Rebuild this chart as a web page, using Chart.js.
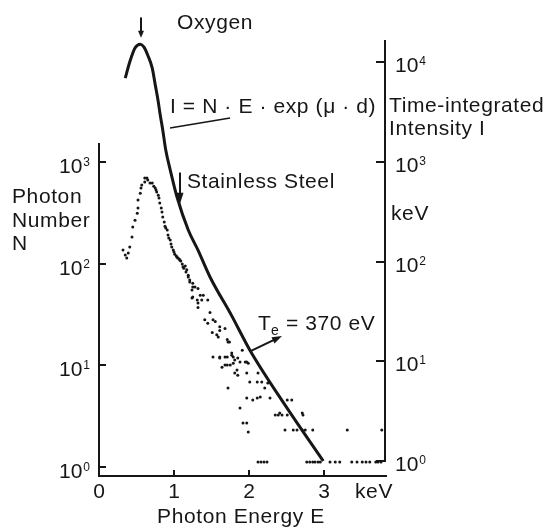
<!DOCTYPE html>
<html>
<head>
<meta charset="utf-8">
<script src="https://cdn.jsdelivr.net/npm/chart.js@4/dist/chart.umd.min.js"></script>
<style>
  html, body { margin: 0; padding: 0; background: #fff; }
  canvas { display: block; }
</style>
</head>
<body>
<canvas id="c" width="553" height="531"></canvas>
<script>
// Measured photon spectrum: photon energy (keV) and photon number N
const photonE = [
  0.32, 0.35, 0.37, 0.39, 0.41, 0.44, 0.45, 0.48, 0.51, 0.52, 0.52, 0.55, 0.56, 0.57, 0.61, 0.61, 0.64, 0.65, 0.68,
  0.71, 0.73, 0.75, 0.76, 0.77, 0.79, 0.80, 0.81, 0.83, 0.84, 0.85, 0.87, 0.88, 0.89, 0.91, 0.92, 0.93, 0.95, 0.96,
  0.97, 0.99, 1.00, 1.01, 1.03, 1.04, 1.05, 1.07, 1.08, 1.09, 1.11, 1.12, 1.13, 1.15, 1.16, 1.17, 1.19, 1.19, 1.21,
  1.21, 1.24, 1.24, 1.25, 1.25, 1.25, 1.28, 1.31, 1.32, 1.32, 1.32, 1.35, 1.37, 1.39, 1.41, 1.45, 1.45, 1.48, 1.51,
  1.52, 1.55, 1.57, 1.59, 1.61, 1.61, 1.68, 1.71, 1.72, 1.74,
  1.52, 1.61, 1.61, 1.64, 1.68, 1.68, 1.71, 1.71, 1.75, 1.77, 1.77, 1.79, 1.79, 1.81, 1.81, 1.84, 1.85, 1.85, 1.88,
  1.91, 1.95, 1.97, 1.97, 1.99, 2.01, 2.11, 2.12, 2.17, 2.21, 2.25, 1.72,
  1.97, 2.05, 2.11, 2.15, 2.28, 2.51, 2.57, 1.88, 2.35, 2.39, 2.41, 2.44, 2.51, 2.71, 2.72,
  1.92, 1.97, 1.99, 2.48, 2.59, 2.64, 2.71, 2.75, 2.85, 3.31, 3.77,
  2.12, 2.16, 2.20, 2.24, 2.77, 2.81, 2.85, 2.88, 2.92, 2.95, 3.08, 3.15, 3.21, 3.37, 3.44, 3.51, 3.56, 3.61, 3.69,
  3.72, 3.76
];
const photonN = [
  136, 122, 114, 127, 146, 183, 229, 268, 314, 352, 422, 494, 554, 593, 634, 695, 695, 664, 620,
  620, 579, 554, 529, 506, 470, 442, 394, 352, 322, 287, 257, 234, 224, 214, 191, 179, 171, 156,
  146, 136, 130, 124, 119, 116, 114, 111, 108, 106, 99, 93, 90, 95, 83, 87, 77, 74, 69,
  66, 55, 46, 64, 59, 47, 59, 44, 57, 41, 37, 49, 44, 49, 28, 44, 26, 33, 21,
  28, 27, 20, 19, 24, 22, 23, 18, 17, 17,
  12.1, 12.1, 11.8, 9.6, 12.1, 10.1, 12.1, 10.1, 10.1, 13.2, 12.6, 12.1, 10.5, 11.3, 8.4, 9.0, 11.8, 8.0, 10.8,
  14.1, 10.8, 10.8, 8.4, 10.5, 6.85, 6.85, 8.4, 6.85, 6.0, 6.7, 6.0,
  4.77, 4.56, 4.77, 4.88, 4.77, 4.56, 4.56, 3.8, 3.25, 3.25, 3.4, 3.25, 3.25, 3.4, 3.25,
  2.71, 2.71, 2.21, 2.31, 2.31, 2.31, 2.31, 2.31, 2.31, 2.31, 2.31,
  1.12, 1.12, 1.12, 1.12, 1.12, 1.12, 1.12, 1.12, 1.12, 1.12, 1.12, 1.12, 1.12, 1.12, 1.12, 1.12, 1.12, 1.12, 1.12,
  1.12, 1.12
];

// Time-integrated intensity I = N·E·exp(μ·d) versus photon energy (keV)
const intensityE = [0.35, 0.41, 0.48, 0.55, 0.60, 0.65, 0.71, 0.75, 0.79, 0.81, 0.85, 0.89, 0.95, 1.04, 1.19, 1.32, 1.48, 1.77, 2.01, 2.49, 2.99];
const intensityI = [6900, 10000, 13800, 15100, 14100, 11700, 8700, 5900, 4000, 3160, 2080, 1310, 826, 443, 207, 130, 70, 28.5, 13, 3.55, 1.0];

// Axis ticks
const xTicks = [0, 1, 2, 3];
const leftTicks = [1, 10, 100, 1000];
const rightTicks = [1, 10, 100, 1000, 10000];
const leftAxisTopN = 1540;   // upper end of the photon-number axis line

const INK = '#161616';
const FONT = '"Liberation Sans", Arial, Helvetica, sans-serif';

function line(ctx, x1, y1, x2, y2) {
  ctx.beginPath(); ctx.moveTo(x1, y1); ctx.lineTo(x2, y2); ctx.stroke();
}
function arrowHead(ctx, x1, y1, x2, y2, len, half) {
  const ang = Math.atan2(y2 - y1, x2 - x1);
  ctx.beginPath();
  ctx.moveTo(x2, y2);
  ctx.lineTo(x2 - len * Math.cos(ang) + half * Math.sin(ang), y2 - len * Math.sin(ang) - half * Math.cos(ang));
  ctx.lineTo(x2 - len * Math.cos(ang) - half * Math.sin(ang), y2 - len * Math.sin(ang) + half * Math.cos(ang));
  ctx.closePath(); ctx.fill();
}
function arrow(ctx, x1, y1, x2, y2, len, half) {
  const ang = Math.atan2(y2 - y1, x2 - x1);
  line(ctx, x1, y1, x2 - len * 0.6 * Math.cos(ang), y2 - len * 0.6 * Math.sin(ang));
  arrowHead(ctx, x1, y1, x2, y2, len, half);
}
function powLabel(ctx, exp, x, y, align) {
  ctx.font = '21px ' + FONT;
  const wb = ctx.measureText('10').width;
  ctx.font = '12px ' + FONT;
  const we = ctx.measureText(String(exp)).width;
  const left = align === 'right' ? x - (wb + 1 + we) : x;
  ctx.textAlign = 'left';
  ctx.font = '21px ' + FONT;
  ctx.fillText('10', left, y);
  ctx.font = '12px ' + FONT;
  ctx.fillText(String(exp), left + wb + 1, y - 7);
}
function text(ctx, s, x, y, size, align) {
  ctx.font = (size || 21) + 'px ' + FONT;
  ctx.textAlign = align || 'left';
  ctx.fillText(s, x, y);
}

const axesAndLabels = {
  id: 'axesAndLabels',
  afterDraw(chart) {
    const { ctx, chartArea: a } = chart;
    const x = chart.scales.x, yL = chart.scales.yL, yR = chart.scales.yR;
    ctx.save();
    ctx.strokeStyle = INK; ctx.fillStyle = INK; ctx.lineWidth = 2; ctx.lineCap = 'butt';
    ctx.textBaseline = 'alphabetic';

    // axis lines
    line(ctx, a.left, yL.getPixelForValue(leftAxisTopN), a.left, a.bottom + 1);
    line(ctx, a.left - 1, a.bottom, a.right + 2, a.bottom);
    line(ctx, a.right, a.top, a.right, yR.getPixelForValue(1) + 1);

    // inward ticks and labels
    leftTicks.forEach(v => {
      const py = Math.round(yL.getPixelForValue(v));
      line(ctx, a.left, py, a.left + 7, py);
      powLabel(ctx, Math.round(Math.log10(v)), a.left - 9, py + 11, 'right');
    });
    rightTicks.forEach(v => {
      const py = Math.round(yR.getPixelForValue(v));
      line(ctx, a.right - 9, py, a.right, py);
      powLabel(ctx, Math.round(Math.log10(v)), a.right + 10, py + 10, 'left');
    });
    xTicks.forEach(v => {
      const px = Math.round(x.getPixelForValue(v));
      if (v > 0) line(ctx, px, a.bottom - 6, px, a.bottom);
      text(ctx, String(v), px, a.bottom + 22, 21, 'center');
    });

    ctx.letterSpacing = '0.6px';
    text(ctx, 'keV', 355, a.bottom + 22);
    text(ctx, 'Photon Energy E', 241, 523, 21, 'center');

    // left axis title
    text(ctx, 'Photon', 12, 203);
    text(ctx, 'Number', 12, 227);
    text(ctx, 'N', 12, 250);

    // right axis title
    text(ctx, 'Time-integrated', 389, 112);
    text(ctx, 'Intensity I', 389, 135);
    text(ctx, 'keV', 391, 220);

    // annotations
    text(ctx, 'Oxygen', 177, 29);
    arrow(ctx, x.getPixelForValue(0.56), yR.getPixelForValue(28000), x.getPixelForValue(0.56), yR.getPixelForValue(17500), 7, 3);

    text(ctx, 'I = N · E · exp (μ · d)', 170, 113);
    ctx.lineWidth = 1.5;
    line(ctx, x.getPixelForValue(0.947), yR.getPixelForValue(2180), x.getPixelForValue(1.747), yR.getPixelForValue(2750));
    ctx.lineWidth = 2;

    text(ctx, 'Stainless Steel', 187, 188);
    arrow(ctx, x.getPixelForValue(1.08), yR.getPixelForValue(780), x.getPixelForValue(1.08), yR.getPixelForValue(380), 11, 3.5);

    text(ctx, 'T', 258, 330);
    ctx.letterSpacing = '0px';
    text(ctx, 'e', 271, 335, 14);
    ctx.letterSpacing = '0.6px';
    text(ctx, '= 370 eV', 286, 330);
    arrow(ctx, x.getPixelForValue(2.027), yR.getPixelForValue(12.7), x.getPixelForValue(2.44), yR.getPixelForValue(17.9), 10, 3.5);

    ctx.restore();
  }
};

const photonPoints = photonE.map((e, i) => ({ x: e, y: photonN[i] }));
const intensityPoints = intensityE.map((e, i) => ({ x: e, y: intensityI[i] }));

new Chart(document.getElementById('c'), {
  type: 'scatter',
  data: {
    datasets: [
      {
        label: 'Photon Number N',
        data: photonPoints,
        yAxisID: 'yL',
        pointStyle: 'circle',
        pointRadius: 1.5,
        pointBorderWidth: 0,
        backgroundColor: INK,
        borderColor: INK
      },
      {
        type: 'line',
        label: 'Time-integrated Intensity I',
        data: intensityPoints,
        yAxisID: 'yR',
        borderColor: INK,
        borderWidth: 3,
        pointRadius: 0,
        fill: false,
        cubicInterpolationMode: 'monotone'
      }
    ]
  },
  options: {
    responsive: false,
    animation: false,
    events: [],
    layout: { padding: { left: 99, right: 168, top: 40, bottom: 55 } },
    plugins: { legend: { display: false }, tooltip: { enabled: false } },
    scales: {
      x: { type: 'linear', min: 0, max: 3.813, bounds: 'data', display: false },
      yL: { type: 'logarithmic', position: 'left', min: 0.8155, max: 15850, bounds: 'data', display: false },
      yR: { type: 'logarithmic', position: 'right', min: 0.7075, max: 16620, bounds: 'data', display: false }
    }
  },
  plugins: [axesAndLabels]
});
</script>
</body>
</html>
